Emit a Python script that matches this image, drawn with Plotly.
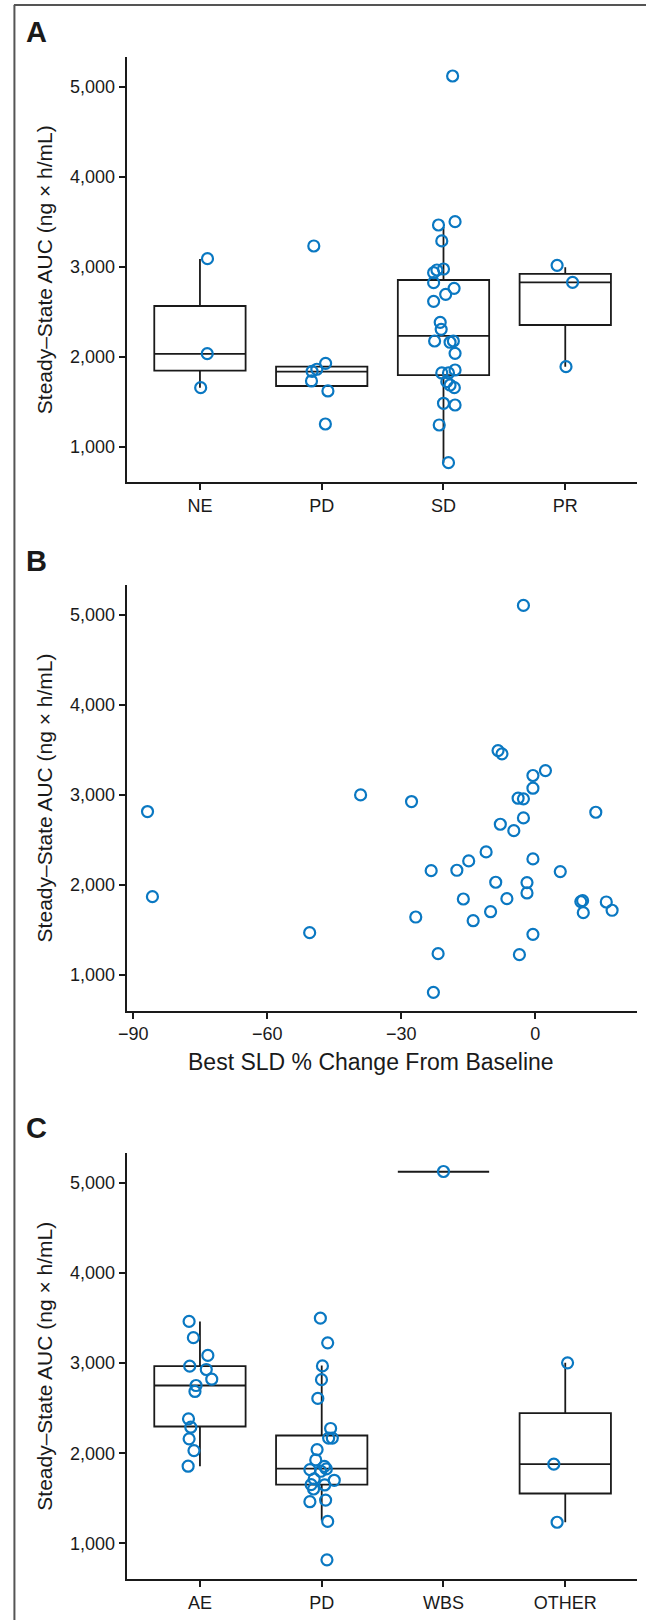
import plotly.graph_objects as go

# ---------------- DATA ----------------
# Panel A: AUC by best response
cats_a = ["NE", "PD", "SD", "PR"]
auc_ne = [3089, 2033, 1656]
jit_ne = [0.062, 0.060, 0.006]
auc_pd_a = [3230, 1926, 1860, 1837, 1730, 1619, 1252]
jit_pd_a = [-0.065, 0.032, -0.040, -0.079, -0.084, 0.051, 0.030]
auc_sd = [5119, 3500, 3463, 3286, 2974, 2963, 2933, 2822, 2759, 2693, 2615, 2382, 2304,
          2174, 2160, 2174, 2037, 1852, 1819, 1819, 1722, 1685, 1656, 1482, 1463, 1241, 822]
jit_sd = [0.075, 0.095, -0.041, -0.014, 0.000, -0.054, -0.081, -0.081, 0.087, 0.018, -0.081,
          -0.027, -0.019, -0.073, 0.054, 0.081, 0.095, 0.095, -0.014, 0.041, 0.027, 0.054,
          0.089, 0.000, 0.095, -0.035, 0.041]
auc_pr = [3015, 2826, 1889]
jit_pr = [-0.067, 0.060, 0.006]
box_a_q1 = [1845, 1674, 1796, 2352]
box_a_med = [2030, 1833, 2230, 2826]
box_a_q3 = [2563, 1889, 2852, 2919]
box_a_lo = [1656, 1674, 822, 1889]
box_a_hi = [3085, 1889, 3440, 2995]

# Panel B: AUC vs best SLD % change
sld_change = [-86.8, -85.7, -50.5, -39.1, -2.65, -8.33, -7.45, 2.28, -0.52, -0.52, -3.84, -2.65,
              -27.7, 13.55, -2.65, -7.82, -4.8, -11.0, -14.9, -0.52, -23.3, -17.55, 5.6, -8.85,
              -1.85, -1.85, -16.1, -6.35, 10.2, 10.6, 10.75, 15.9, 17.2, -10.0, -13.9, -26.75,
              -0.52, -21.75, -3.55, -22.8]
auc_b = [2815, 1870, 1470, 3000, 5103, 3492, 3456, 3270, 3215, 3074, 2963, 2956,
         2926, 2807, 2744, 2674, 2603, 2367, 2267, 2289, 2159, 2163, 2148, 2030,
         2026, 1911, 1844, 1848, 1815, 1826, 1692, 1811, 1719, 1703, 1603, 1644,
         1452, 1237, 1226, 808]

# Panel C: AUC by reason for discontinuation
cats_c = ["AE", "PD", "WBS", "OTHER"]
auc_ae = [3464, 3283, 3086, 2967, 2930, 2822, 2752, 2686, 2382, 2289, 2160, 2030, 1856]
jit_ae = [-0.089, -0.054, 0.065, -0.084, 0.052, 0.097, -0.032, -0.041, -0.094, -0.075,
          -0.089, -0.049, -0.097]
auc_pd_c = [3500, 3226, 2970, 2817, 2609, 2275, 2168, 2168, 2041, 1926, 1818, 1855, 1826,
            1800, 1715, 1700, 1652, 1648, 1603, 1462, 1480, 1243, 817]
jit_pd_c = [-0.011, 0.049, 0.006, -0.002, -0.032, 0.073, 0.057, 0.087, -0.038, -0.049,
            -0.097, 0.022, 0.038, -0.008, -0.062, 0.103, -0.087, 0.024, -0.067, -0.097,
            0.032, 0.049, 0.043]
auc_wbs = [5128]
jit_wbs = [0.0]
auc_other = [3004, 1880, 1234]
jit_other = [0.019, -0.094, -0.067]
box_c_q1 = [2297, 1652, 5125, 1553]
box_c_med = [2752, 1830, 5125, 1880]
box_c_q3 = [2967, 2197, 5125, 2445]
box_c_lo = [1855, 1253, 5125, 1234]
box_c_hi = [3464, 2975, 5125, 3004]

y_ticks = [1000, 2000, 3000, 4000, 5000]
x_ticks_b = [-90, -60, -30, 0]
y_title = "Steady–State AUC (ng × h/mL)"
x_title_b = "Best SLD % Change From Baseline"
panel_labels = ["A", "B", "C"]

# ---------------- STYLE ----------------
W, H = 646, 1620
BLUE = "#0a78c2"
INK = "#1a1a1a"
FONT = "Liberation Sans, Arial, sans-serif"
marker = dict(symbol="circle-open", size=11, color=BLUE, line=dict(width=2.2, color=BLUE))

def px_x(p):
    return p / W

def px_y(p):
    return 1 - p / H

x_dom = [px_x(120), px_x(637)]
dom_a = [px_y(482.3), px_y(57)]
dom_b = [px_y(1010.7), px_y(585)]
dom_c = [px_y(1579), px_y(1153.3)]
y_rng = [604, 5330]

fig = go.Figure()

def add_groups(xa, ya, groups, q1, med, q3, lo, hi):
    fig.add_trace(go.Box(
        x=list(range(len(q1))), q1=q1, median=med, q3=q3, lowerfence=lo, upperfence=hi,
        width=0.75, fillcolor="rgba(0,0,0,0)", line=dict(color=INK, width=1.8),
        boxpoints=False, whiskerwidth=0, xaxis=xa, yaxis=ya, showlegend=False,
        hoverinfo="skip"))
    for i, (vals, jit) in enumerate(groups):
        fig.add_trace(go.Scatter(
            x=[i + j for j in jit], y=vals, mode="markers", marker=marker,
            xaxis=xa, yaxis=ya, showlegend=False))

add_groups("x", "y", [(auc_ne, jit_ne), (auc_pd_a, jit_pd_a), (auc_sd, jit_sd), (auc_pr, jit_pr)],
           box_a_q1, box_a_med, box_a_q3, box_a_lo, box_a_hi)
fig.add_trace(go.Scatter(x=sld_change, y=auc_b, mode="markers", marker=marker,
                         xaxis="x2", yaxis="y2", showlegend=False))
add_groups("x3", "y3", [(auc_ae, jit_ae), (auc_pd_c, jit_pd_c), (auc_wbs, jit_wbs), (auc_other, jit_other)],
           box_c_q1, box_c_med, box_c_q3, box_c_lo, box_c_hi)

axis_common = dict(showline=True, linecolor=INK, linewidth=1.8, ticks="outside", ticklen=6,
                   tickwidth=1.5, tickcolor=INK, showgrid=False, zeroline=False,
                   tickfont=dict(family=FONT, size=18, color=INK))
yaxis_common = dict(axis_common, range=y_rng, tickvals=y_ticks, tickformat=",d")

fig.update_layout(
    width=W, height=H, autosize=False,
    margin=dict(l=0, r=0, t=0, b=0),
    paper_bgcolor="white", plot_bgcolor="white",
    font=dict(family=FONT, color=INK),
    xaxis=dict(axis_common, domain=x_dom, range=[-0.603, 3.59], tickvals=[0, 1, 2, 3],
               ticktext=cats_a, anchor="y"),
    yaxis=dict(yaxis_common, domain=dom_a, anchor="x"),
    xaxis2=dict(axis_common, domain=x_dom, range=[-91.5, 22.8], tickvals=x_ticks_b, anchor="y2"),
    yaxis2=dict(yaxis_common, domain=dom_b, anchor="x2"),
    xaxis3=dict(axis_common, domain=x_dom, range=[-0.603, 3.59], tickvals=[0, 1, 2, 3],
                ticktext=cats_c, anchor="y3"),
    yaxis3=dict(yaxis_common, domain=dom_c, anchor="x3"),
)

# y-axis titles
for dom in (dom_a, dom_b, dom_c):
    fig.add_annotation(text=y_title, xref="paper", yref="paper", x=px_x(37),
                       y=(dom[0] + dom[1]) / 2, textangle=-90, showarrow=False,
                       xanchor="center", yanchor="middle",
                       font=dict(family=FONT, size=21, color=INK))
# x-axis title panel B
fig.add_annotation(text=x_title_b, xref="paper", yref="paper", x=px_x(368), y=px_y(1062),
                   showarrow=False, xanchor="center", yanchor="middle",
                   font=dict(family=FONT, size=23, color=INK))
# panel letters
for lab, yc in zip(panel_labels, [32, 561, 1128]):
    fig.add_annotation(text="<b>%s</b>" % lab, xref="paper", yref="paper", x=px_x(16),
                       y=px_y(yc), showarrow=False, xanchor="left", yanchor="middle",
                       font=dict(family=FONT, size=29, color=INK))

# figure frame (top and left edges)
fig.add_shape(type="line", xref="paper", yref="paper", x0=px_x(6), x1=1.0,
              y0=px_y(5), y1=px_y(5), line=dict(color="#555", width=2))
fig.add_shape(type="line", xref="paper", yref="paper", x0=px_x(6.5), x1=px_x(6.5),
              y0=px_y(5), y1=0, line=dict(color="#555", width=2))

fig.write_html("out.html", config={"displayModeBar": False},
               post_script="document.body.style.margin='0';document.body.style.padding='0';"
                           "document.body.style.overflow='hidden';")
